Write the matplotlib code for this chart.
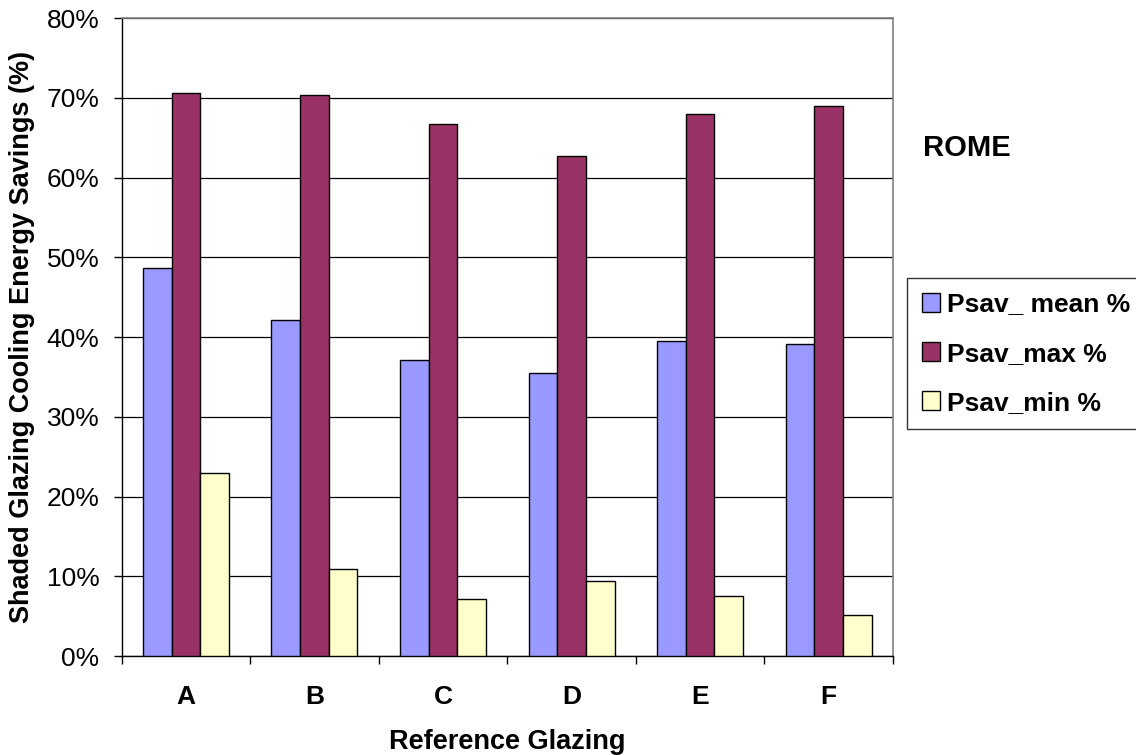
import numpy as np
import matplotlib
matplotlib.use("Agg")
import matplotlib.pyplot as plt
from matplotlib.ticker import FixedLocator, PercentFormatter

plt.rcParams['font.family'] = ['Liberation Sans', 'DejaVu Sans']

glazings = ["A", "B", "C", "D", "E", "F"]
psav_mean = [48.7, 42.1, 37.1, 35.5, 39.5, 39.2]
psav_max = [70.6, 70.4, 66.7, 62.7, 68.0, 69.0]
psav_min = [22.9, 10.9, 7.1, 9.4, 7.5, 5.2]

series_names = ["Psav_ mean %", "Psav_max %", "Psav_min %"]
series_colors = ["#9999FF", "#993366", "#FFFFCC"]

fig = plt.figure(figsize=(11.36, 7.55), dpi=100)
ax = fig.add_axes([0.1071, 0.1311, 0.786 - 0.1071, 0.9758 - 0.1311])

x = np.arange(len(glazings))
w = 0.223
for i, (vals, name, col) in enumerate(zip([psav_mean, psav_max, psav_min], series_names, series_colors)):
    ax.bar(x + (i - 1) * w, vals, width=w, color=col, edgecolor="black",
           linewidth=1.0, label=name, zorder=3)

ax.set_xlim(-0.5, len(glazings) - 0.5)
ax.set_ylim(0, 80)
ax.set_yticks(np.arange(0, 81, 10))
ax.yaxis.set_major_formatter(PercentFormatter(decimals=0))
ax.yaxis.grid(True, color="black", linewidth=0.9, zorder=0)
ax.set_axisbelow(True)

ax.set_xticks(x)
ax.set_xticklabels(glazings, fontsize=19, fontweight="bold")
ax.xaxis.set_minor_locator(FixedLocator(np.arange(-0.5, len(glazings), 1.0)))
ax.tick_params(axis="x", which="major", length=0, pad=21)
ax.tick_params(axis="x", which="minor", length=6, width=1, direction="out", color="black")
ax.tick_params(axis="y", which="major", length=6, width=1, direction="out", labelsize=19, pad=10)

for s in ["top", "right"]:
    ax.spines[s].set_color("#808080")
    ax.spines[s].set_linewidth(1.2)
for s in ["left", "bottom"]:
    ax.spines[s].set_color("black")
    ax.spines[s].set_linewidth(1.0)

ax.set_xlabel("Reference Glazing", fontsize=19.5, fontweight="bold", labelpad=14)
ax.set_ylabel("Shaded Glazing Cooling Energy Savings (%)", fontsize=19.5, fontweight="bold", labelpad=8)

fig.text(923 / 1136, 1 - 148 / 755, "ROME", fontsize=21, fontweight="bold", va="center", ha="left")

leg = ax.legend(loc="upper left", bbox_to_anchor=(907 / 1136, 1 - 278 / 755),
                bbox_transform=fig.transFigure, borderaxespad=0, frameon=True,
                fancybox=False, prop={"size": 19, "weight": "bold"},
                handlelength=0.7, handleheight=0.7, handletextpad=0.25,
                labelspacing=0.95, borderpad=0.55)
leg.get_frame().set_edgecolor("black")
leg.get_frame().set_linewidth(1.0)

fig.savefig("out.png", dpi=100)
